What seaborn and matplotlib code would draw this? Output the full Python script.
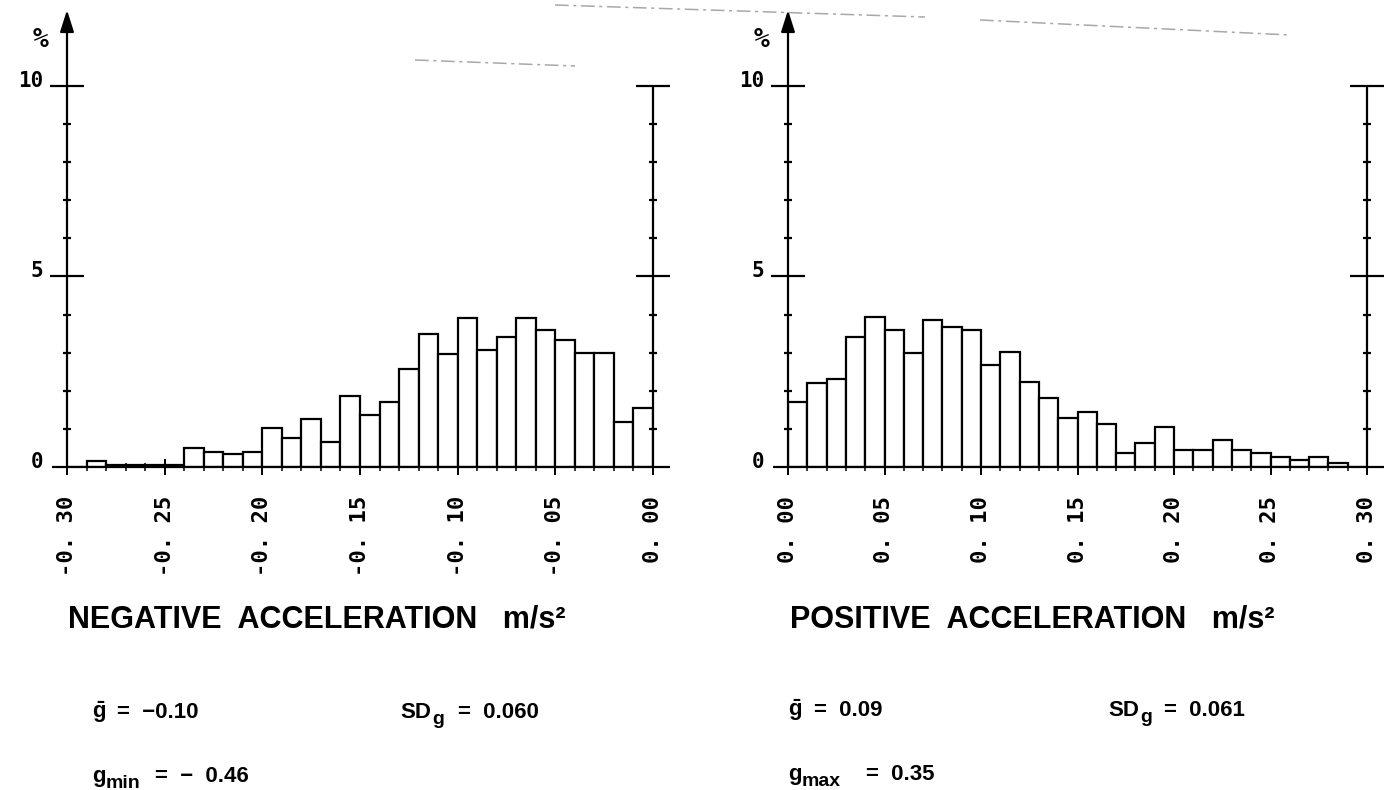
import numpy as np
import pandas as pd
import matplotlib
matplotlib.use("Agg")
import matplotlib.pyplot as plt
from matplotlib import font_manager
from matplotlib.lines import Line2D
from matplotlib.transforms import ScaledTranslation
import seaborn as sns

# ---- histogram data (percent of samples per 0.01 m/s^2 bin) ----
neg_edges = np.round(np.linspace(-0.30, 0.00, 31), 2)
neg_pct = [0.00, 0.16, 0.06, 0.06, 0.06, 0.06, 0.50, 0.40, 0.33, 0.40,
           1.02, 0.75, 1.26, 0.66, 1.86, 1.36, 1.70, 2.57, 3.49, 2.97,
           3.91, 3.07, 3.40, 3.91, 3.59, 3.33, 2.98, 2.98, 1.19, 1.54]

pos_edges = np.round(np.linspace(0.00, 0.30, 31), 2)
pos_pct = [1.70, 2.21, 2.32, 3.42, 3.93, 3.59, 2.98, 3.85, 3.67, 3.60,
           2.67, 3.01, 2.24, 1.81, 1.29, 1.45, 1.13, 0.38, 0.63, 1.04,
           0.45, 0.45, 0.70, 0.44, 0.36, 0.25, 0.18, 0.25, 0.11, 0.00]

neg_ticks = [-0.30, -0.25, -0.20, -0.15, -0.10, -0.05, 0.00]
neg_ticklabels = ["-0. 30", "-0. 25", "-0. 20", "-0. 15", "-0. 10", "-0. 05", "0. 00"]
pos_ticks = [0.00, 0.05, 0.10, 0.15, 0.20, 0.25, 0.30]
pos_ticklabels = ["0. 00", "0. 05", "0. 10", "0. 15", "0. 20", "0. 25", "0. 30"]

y_major = [0, 5, 10]
y_major_labels = ["0", "5", "10"]
y_minor = [1, 2, 3, 4, 6, 7, 8, 9]

neg_title = "NEGATIVE  ACCELERATION   m/s\u00b2"
pos_title = "POSITIVE  ACCELERATION   m/s\u00b2"

# summary statistics: (symbol, subscript, value text)
neg_mean = ("g", "", "=  \u22120.10")
neg_sd = ("SD", "g", "=  0.060")
neg_min = ("g", "min", "=  \u2212  0.46")
pos_mean = ("g", "", "=  0.09")
pos_sd = ("SD", "g", "=  0.061")
pos_max = ("g", "max", "=  0.35")


def first_font(names):
    for n in names:
        try:
            font_manager.findfont(font_manager.FontProperties(family=n), fallback_to_default=False)
            return n
        except Exception:
            continue
    return "DejaVu Sans"


sns.set_theme(style="white")
MONO = first_font(["DejaVu Sans Mono", "Liberation Mono"])
SANS = first_font(["Liberation Sans", "Roboto"])
plt.rcParams["font.family"] = [SANS, "DejaVu Sans"]
plt.rcParams["mathtext.fontset"] = "custom"
plt.rcParams["mathtext.rm"] = f"{SANS}:bold"
plt.rcParams["mathtext.it"] = f"{SANS}:bold"
plt.rcParams["mathtext.bf"] = f"{SANS}:bold"

W, H = 1392, 790
fig = plt.figure(figsize=(W / 100, H / 100), dpi=100)
fig.patch.set_facecolor("white")

Y0, Y10 = 467, 86          # pixel rows of 0 % and 10 %
PX_Y = (Y0 - Y10) / 10.0   # pixels per percent
LW = 1.6


def make_axes(px_left, px_right):
    return fig.add_axes([px_left / W, (H - Y0) / H, (px_right - px_left) / W, (Y0 - Y10) / H])


def draw_panel(ax, edges, pct, ticks, ticklabels):
    x0, x1 = float(edges[0]), float(edges[-1])
    bb = ax.get_position()
    px_x = bb.width * W / (x1 - x0)   # pixels per m/s^2
    dx = lambda p: p / px_x
    dy = lambda p: p / PX_Y

    centers = (edges[:-1] + edges[1:]) / 2
    df = pd.DataFrame({"acc": centers, "pct": pct})
    sns.histplot(data=df, x="acc", weights="pct", bins=list(edges), ax=ax,
                 fill=True, color="white", edgecolor="black", linewidth=LW, alpha=1)

    ax.set_xlim(x0, x1)
    ax.set_ylim(0, 10)
    ax.set_xlabel("")
    ax.set_ylabel("")
    ax.set_facecolor("none")
    for s in ax.spines.values():
        s.set_visible(False)
    ax.set_yticks([])

    # x ticks and rotated plotter-style labels
    ax.set_xticks(ticks)
    ax.set_xticklabels(ticklabels, rotation=90, fontfamily=MONO, fontweight="bold", fontsize=16)
    shift = ScaledTranslation(-6 / 100, 0, fig.dpi_scale_trans)
    for lab in ax.get_xticklabels():
        lab.set_transform(lab.get_transform() + shift)
    ax.set_xticks(list(edges), minor=True)
    ax.tick_params(axis="x", which="major", bottom=True, direction="inout",
                   length=12, width=1.4, color="black", pad=15, labelcolor="black")
    ax.tick_params(axis="x", which="minor", bottom=True, direction="inout",
                   length=6, width=1.1, color="black")

    kw = dict(color="black", lw=LW, clip_on=False, solid_capstyle="butt")
    # baseline
    ax.plot([x0 - dx(15), x1 + dx(17)], [0, 0], **kw)
    # left axis with arrow
    ax.annotate("", xy=(x0, dy(Y0 - 10)), xytext=(x0, 0), annotation_clip=False,
                arrowprops=dict(arrowstyle="-|>,head_length=1.1,head_width=0.35",
                                lw=LW, color="black", shrinkA=0, shrinkB=0))
    # right axis
    ax.plot([x1, x1], [0, 10], **kw)

    for xa in (x0, x1):
        for v in y_minor:
            ax.plot([xa - dx(4), xa + dx(4)], [v, v], **kw)
        for v in y_major[1:]:
            ax.plot([xa - dx(17), xa + dx(17)], [v, v], **kw)

    for v, lab in zip(y_major, y_major_labels):
        ax.text(x0 - dx(24), v + dy(5), lab, ha="right", va="center",
                fontfamily=MONO, fontweight="bold", fontsize=15, color="black")
    ax.text(x0 - dx(26), dy(Y0 - 40), "%", ha="center", va="center",
            fontfamily=MONO, fontweight="bold", fontsize=19, color="black")


ax_neg = make_axes(67, 653)
draw_panel(ax_neg, neg_edges, neg_pct, neg_ticks, neg_ticklabels)
ax_pos = make_axes(788, 1367)
draw_panel(ax_pos, pos_edges, pos_pct, pos_ticks, pos_ticklabels)


def ftext(px, py, s, **kw):
    fig.text(px / W, 1 - py / H, s, **kw)


title_kw = dict(fontfamily=SANS, fontweight="bold", fontsize=22, va="baseline", ha="left", color="black")
ftext(68, 627, neg_title, **title_kw)
ftext(790, 627, pos_title, **title_kw)

base_kw = dict(fontfamily=SANS, fontweight="bold", fontsize=16, va="baseline", ha="left", color="black")
sub_kw = dict(base_kw, fontsize=14)


def stat(px, base, item, x_sub, x_val, bar=False):
    sym, sub, val = item
    ftext(px, base, r"$\bar{\mathrm{%s}}$" % sym if bar else sym, **base_kw)
    if sub:
        ftext(x_sub, base + 6, sub, **sub_kw)
    ftext(x_val, base, val, **base_kw)


stat(92, 718, neg_mean, None, 117, bar=True)
stat(400, 718, neg_sd, 432, 458)
stat(92, 782, neg_min, 106, 155)
stat(788, 716, pos_mean, None, 814, bar=True)
stat(1108, 716, pos_sd, 1140, 1164)
stat(788, 780, pos_max, 802, 866)

# faint dash-dot traces along the top of the sheet
for (xa, ya), (xb, yb) in [((415, 60), (575, 66)), ((555, 5), (925, 17)), ((980, 20), (1290, 35))]:
    fig.add_artist(Line2D([xa / W, xb / W], [1 - ya / H, 1 - yb / H], transform=fig.transFigure,
                          color="#a8a8a8", lw=1.1, linestyle=(0, (9, 3, 2, 3))))

fig.savefig("out.png", dpi=100, facecolor="white")
